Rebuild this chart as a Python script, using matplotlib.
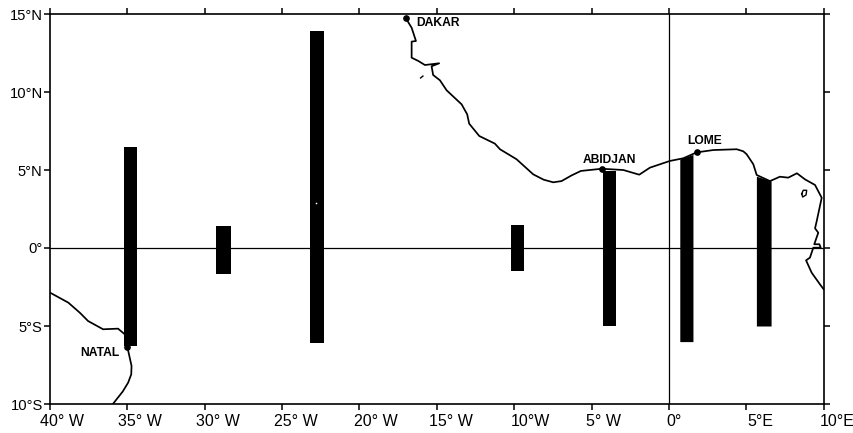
import matplotlib
matplotlib.use('Agg')
import matplotlib.pyplot as plt
from matplotlib.transforms import ScaledTranslation

plt.rcParams['font.family'] = ['Liberation Sans', 'DejaVu Sans']

# africa coast, dakar to the right edge
africa_lon = [-17.0, -16.63, -16.35, -16.63, -16.63, -16.2, -15.77, -14.85, -15.34, -15.24, -14.8, -14.37,
              -13.4, -13.04, -12.91, -12.26, -11.25, -10.92, -9.85, -8.77, -8.1, -7.48, -6.94, -6.3, -5.69, -4.35,
              -2.95, -1.92, -1.23, 0.06, 0.92, 1.79, 2.87, 4.38, 4.8, 5.02, 5.45, 5.67, 6.53,
              7.17, 7.71, 8.27, 8.79, 9.44, 9.87, 9.55, 9.44, 9.65, 9.39, 9.72, 9.81,
              9.33, 9.11, 8.86, 9.22, 9.76, 10.0]
africa_lat = [14.72, 14.12, 13.27, 13.23, 12.2, 11.99, 11.73, 11.84, 11.65, 11.09, 10.75, 10.11,
              9.21, 8.57, 7.97, 7.18, 6.69, 6.33, 5.69, 4.72, 4.38, 4.21, 4.29, 4.65, 4.94, 5.08,
              5.0, 4.7, 5.15, 5.58, 5.75, 6.13, 6.28, 6.33, 6.2, 6.01, 5.37, 4.68, 4.29,
              4.57, 4.51, 4.79, 4.4, 4.04, 3.22, 1.73, 1.26, 0.98, 0.24, 0.24, 0.02,
              0.02, -0.62, -0.79, -1.58, -2.33, -2.65]

# south america coast
brazil_lon = [-40.0, -38.82, -38.07, -37.54, -36.57, -35.6, -35.17, -35.0, -34.73, -34.75, -34.95, -35.3, -35.92]
brazil_lat = [-2.86, -3.5, -4.15, -4.68, -5.21, -5.17, -5.53, -6.35, -7.56, -8.1, -8.63, -9.2, -9.98]

# lake in the east and the little islet off guinea
lake_lon = [8.58, 8.68, 8.9, 8.86, 8.64, 8.58]
lake_lat = [3.48, 3.7, 3.7, 3.4, 3.27, 3.48]
islet_lon = [-16.05, -15.9]
islet_lat = [10.9, 11.02]

# black bars: lon range, top at each side, bottom
bar_left = [-35.25, -29.3, -23.2, -10.2, -4.25, 0.7, 5.65]
bar_right = [-34.4, -28.3, -22.3, -9.4, -3.4, 1.55, 6.6]
bar_top_left = [6.47, 1.4, 13.9, 1.5, 4.95, 5.7, 4.6]
bar_top_right = [6.47, 1.4, 13.9, 1.5, 4.95, 6.0, 4.3]
bar_bottom = [-6.28, -1.65, -6.1, -1.5, -5.0, -6.0, -5.0]

cities = ['DAKAR', 'ABIDJAN', 'LOME', 'NATAL']
city_lon = [-17.0, -4.35, 1.79, -35.0]
city_lat = [14.72, 5.08, 6.13, -6.35]
label_lon = [-16.35, -5.58, 1.21, -38.07]
label_lat = [14.42, 5.64, 6.87, -6.71]

x_ticks = [-40, -35, -30, -25, -20, -15, -10, -5, 0, 5, 10]
x_labels = ['40° W', '35° W', '30° W', '25° W', '20° W', '15° W', '10°W', '5° W', '0°', '5°E', '10°E']
y_ticks = [-10, -5, 0, 5, 10, 15]
y_labels = ['10°S', '5°S', '0°', '5°N', '10°N', '15°N']

fig = plt.figure(figsize=(8.54, 4.33), dpi=100)
ax = fig.add_axes([50 / 854, 1 - 404 / 433, 773.7 / 854, 390 / 433])

for i in range(len(bar_left)):
    ax.fill_between([bar_left[i], bar_right[i]], [bar_top_left[i], bar_top_right[i]], bar_bottom[i],
                    color='black', lw=0, zorder=3)

ax.axhline(0, color='black', lw=0.9, zorder=1)
ax.axvline(0, color='black', lw=0.9, zorder=1)

ax.plot(africa_lon, africa_lat, color='black', lw=1.25, zorder=2)
ax.plot(brazil_lon, brazil_lat, color='black', lw=1.25, zorder=2)
ax.plot(lake_lon, lake_lat, color='black', lw=1.0, zorder=2)
ax.plot(islet_lon, islet_lat, color='black', lw=1.0, zorder=2)
ax.plot(city_lon, city_lat, 'o', color='black', ms=3.8, zorder=4)

# small white speck in the long bar
ax.plot([-22.8], [2.9], 'o', color='white', ms=1.2, mew=0, zorder=5)

for i in range(len(cities)):
    ax.text(label_lon[i], label_lat[i], cities[i], fontsize=8.7, fontweight='bold',
            ha='left', va='center', color='black')

ax.set_xlim(-40, 10)
ax.set_ylim(-10, 15)
ax.set_xticks(x_ticks)
ax.set_xticklabels(x_labels)
ax.set_yticks(y_ticks)
ax.set_yticklabels(y_labels)
ax.tick_params(top=True, right=True, length=4.3, width=1.1, pad=2)
ax.tick_params(axis='x', labelsize=11.5, pad=3)
ax.tick_params(axis='y', labelsize=10.6, pad=1)
for s in ax.spines.values():
    s.set_linewidth(1.2)

# x labels sit to the right of their ticks in the original
label_shift = [12, 12.5, 13, 14, 16, 14, 16, 12, 5, 14, 13]
for lbl, dx in zip(ax.get_xticklabels(), label_shift):
    lbl.set_transform(lbl.get_transform() + ScaledTranslation(dx / 100, 0, fig.dpi_scale_trans))

fig.savefig('out.png', dpi=100)
